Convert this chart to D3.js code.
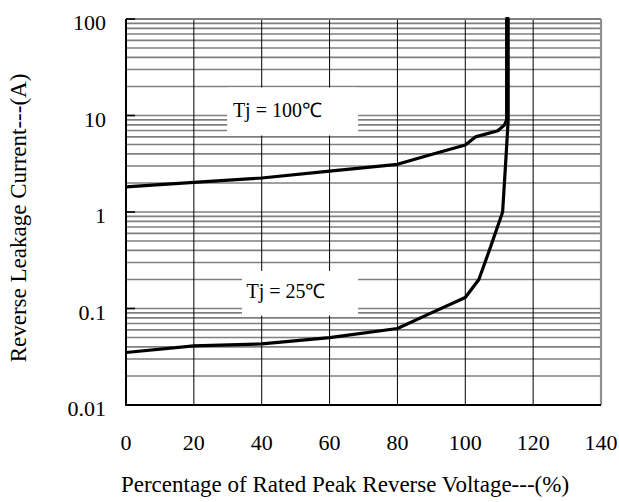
<!DOCTYPE html>
<html><head><meta charset="utf-8">
<script src="https://cdn.jsdelivr.net/npm/d3@7"></script>
<style>body{margin:0;background:#fff}svg{display:block}</style>
</head><body>
<svg id="c" width="619" height="502"></svg>
<script>
// Data
const xTicks = [0, 20, 40, 60, 80, 100, 120, 140];
const yTicks = [0.01, 0.1, 1, 10, 100];
const yTickLabels = ["0.01", "0.1", "1", "10", "100"];
const curve100X = [0, 20, 40, 60, 80, 90, 100, 103, 109.6, 111.5, 112.2, 112.2];
const curve100Y = [1.82, 2.03, 2.25, 2.65, 3.12, 3.95, 4.95, 6.0, 6.95, 7.95, 9.0, 100];
const curve25X = [0, 20, 40, 60, 80, 90, 100, 104, 107.3, 111, 112, 112.6, 112.6];
const curve25Y = [0.035, 0.041, 0.043, 0.05, 0.062, 0.09, 0.13, 0.2, 0.42, 1.0, 3.7, 8.5, 100];
const labels = ["Tj = 100\u2103", "Tj = 25\u2103"];
const xTitle = "Percentage of Rated Peak Reverse Voltage---(%)";
const yTitle = "Reverse Leakage Current---(A)";

const FONT = "'Liberation Serif','Times New Roman',serif";
const svg = d3.select("#c");
const L = 126, R = 601, T = 19, B = 405;
const x = d3.scaleLinear().domain([0, 140]).range([L, R]);
const y = d3.scaleLog().domain([0.01, 100]).range([B, T]);

// minor horizontal grid (gray)
const minor = [];
for (let e = -2; e < 2; e++) for (let m = 2; m <= 9; m++) minor.push(m * Math.pow(10, e));
const hGrid = minor.concat([0.1, 1, 10]);
svg.append("g").selectAll("line").data(hGrid).join("line")
  .attr("x1", L).attr("x2", R).attr("y1", d => y(d)).attr("y2", d => y(d))
  .attr("stroke", "#7f7f7f").attr("stroke-width", 1.6);

// vertical grid (black)
svg.append("g").selectAll("line").data(xTicks.filter(d => d > 0 && d < 140)).join("line")
  .attr("x1", d => x(d)).attr("x2", d => x(d)).attr("y1", T).attr("y2", B)
  .attr("stroke", "#000").attr("stroke-width", 1);

// top & right border gray
svg.append("line").attr("x1", L).attr("x2", R).attr("y1", T).attr("y2", T).attr("stroke", "#7f7f7f").attr("stroke-width", 2);
svg.append("line").attr("x1", R).attr("x2", R).attr("y1", T).attr("y2", B).attr("stroke", "#8f8f8f").attr("stroke-width", 2.2);

// label boxes (white) covering grid
const boxes = [
  {x0: 29.8, x1: 68.4, y0: 19.5, y1: 6.2, tx: 31.5, label: labels[0]},
  {x0: 34.2, x1: 68.4, y0: 0.245, y1: 0.0845, tx: 35.5, label: labels[1]}
];
svg.append("g").selectAll("rect").data(boxes).join("rect")
  .attr("x", d => x(d.x0)).attr("width", d => x(d.x1) - x(d.x0))
  .attr("y", d => y(d.y0)).attr("height", d => y(d.y1) - y(d.y0))
  .attr("fill", "#fff");
boxes.forEach(d => {
  svg.append("text").attr("x", x(d.tx)).attr("y", (y(d.y0) + y(d.y1)) / 2 + 5)
    .attr("font-family", FONT).attr("font-size", 20).attr("fill", "#000").text(d.label);
});

// left & bottom axes (black)
svg.append("line").attr("x1", L).attr("x2", L).attr("y1", T).attr("y2", B + 1).attr("stroke", "#000").attr("stroke-width", 2);
svg.append("line").attr("x1", L).attr("x2", R).attr("y1", B).attr("y2", B).attr("stroke", "#000").attr("stroke-width", 2);
// decade ticks
svg.append("g").selectAll("line").data(yTicks).join("line")
  .attr("x1", L).attr("x2", L + 9).attr("y1", d => y(d)).attr("y2", d => y(d))
  .attr("stroke", "#000").attr("stroke-width", 1.6);

// curves
const line = d3.line().x(d => x(d[0])).y(d => y(d[1]));
const c100 = curve100X.map((v, i) => [v, curve100Y[i]]);
const c25 = curve25X.map((v, i) => [v, curve25Y[i]]);
[c100, c25].forEach(c => {
  svg.append("path").datum(c).attr("d", line).attr("fill", "none")
    .attr("stroke", "#000").attr("stroke-width", 3.2).attr("stroke-linejoin", "round");
});
// vertical part extends slightly above the frame
svg.append("line").attr("x1", x(112.4)).attr("x2", x(112.4)).attr("y1", T - 2).attr("y2", y(9))
  .attr("stroke", "#000").attr("stroke-width", 4);

// tick labels
yTicks.forEach((d, i) => {
  svg.append("text").attr("x", 106).attr("y", y(d) + 11).attr("text-anchor", "end")
    .attr("font-family", FONT).attr("font-size", 22).attr("fill", "#000").text(yTickLabels[i]);
});
xTicks.forEach(d => {
  svg.append("text").attr("x", x(d)).attr("y", 450).attr("text-anchor", "middle")
    .attr("font-family", FONT).attr("font-size", 22).attr("fill", "#000").text(String(d));
});

// titles
svg.append("text").attr("x", 345).attr("y", 492).attr("text-anchor", "middle")
  .attr("font-family", FONT).attr("font-size", 23).attr("fill", "#000").text(xTitle);
svg.append("text").attr("transform", "translate(26,218) rotate(-90)").attr("text-anchor", "middle")
  .attr("font-family", FONT).attr("font-size", 23).attr("fill", "#000").text(yTitle);
</script>
</body></html>
